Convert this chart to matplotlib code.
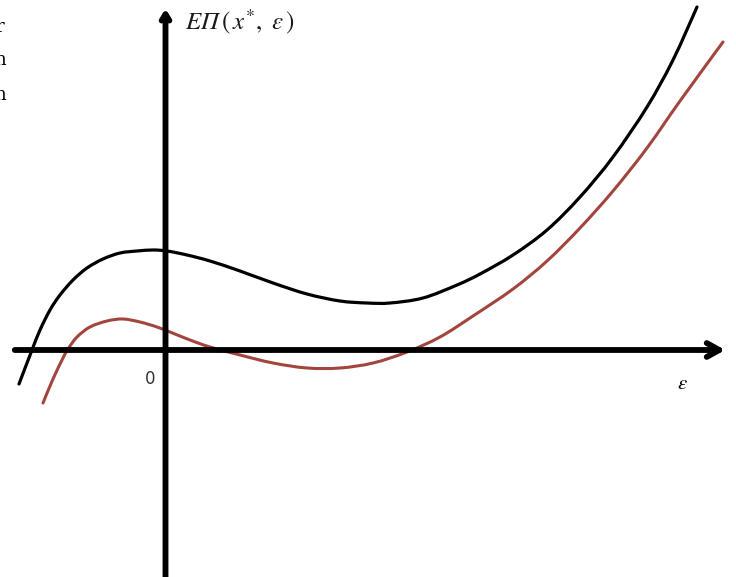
import numpy as np
import matplotlib
matplotlib.use("Agg")
import matplotlib.pyplot as plt
from matplotlib.path import Path
from matplotlib.patches import PathPatch

plt.rcParams['mathtext.fontset'] = 'stix'

# curves (epsilon, expected profit)
eps_black = [-1.46, -1.33, -1.25, -1.15, -1.05, -0.92, -0.78, -0.62, -0.45, -0.28,
             -0.12, 0.02, 0.22, 0.45, 0.75, 1.08, 1.42, 1.75, 2.02, 2.25,
             2.58, 2.92, 3.15, 3.48, 3.82, 4.15, 4.48, 4.82, 5.08, 5.32]
prof_black = [-0.33, 0.01, 0.21, 0.41, 0.56, 0.71, 0.83, 0.92, 0.98, 1.00,
              1.01, 1.00, 0.96, 0.90, 0.80, 0.68, 0.57, 0.50, 0.48, 0.48,
              0.53, 0.66, 0.77, 0.96, 1.21, 1.54, 1.94, 2.44, 2.91, 3.44]

eps_red = [-1.22, -1.12, -1.02, -0.97, -0.88, -0.75, -0.58, -0.42, -0.25, -0.08,
           0.05, 0.25, 0.45, 0.75, 1.08, 1.42, 1.75, 2.08, 2.42, 2.75,
           3.08, 3.48, 3.82, 4.15, 4.48, 4.82, 5.15, 5.58]
prof_red = [-0.52, -0.28, -0.07, 0.02, 0.14, 0.24, 0.30, 0.32, 0.29, 0.24,
            0.19, 0.11, 0.04, -0.04, -0.12, -0.17, -0.17, -0.12, -0.01, 0.14,
            0.35, 0.62, 0.90, 1.23, 1.60, 2.03, 2.50, 3.09]


def smooth_path(xs, ys):
    # bezier path through the points (catmull-rom style handles)
    p = np.column_stack([xs, ys])
    ext = np.vstack([p[0], p, p[-1]])
    verts = [p[0]]
    codes = [Path.MOVETO]
    for i in range(1, len(ext) - 2):
        p0, p1, p2, p3 = ext[i - 1], ext[i], ext[i + 1], ext[i + 2]
        verts += [p1 + (p2 - p0) / 6, p2 - (p3 - p1) / 6, p2]
        codes += [Path.CURVE4] * 3
    return Path(verts, codes)


fig = plt.figure(figsize=(7.36, 5.77), dpi=100)
ax = fig.add_axes([0, 0, 1, 1])
ax.set_xlim(-1.65, 5.71)
ax.set_ylim(-2.26, 3.51)
ax.axis('off')

# axes with arrows
ax.annotate('', xy=(5.63, 0.01), xytext=(-1.53, 0.01),
            arrowprops=dict(arrowstyle='->,head_length=0.9,head_width=0.5', lw=4.2, color='black'))
ax.annotate('', xy=(0.005, 3.45), xytext=(0.005, -2.3),
            arrowprops=dict(arrowstyle='->,head_length=0.45,head_width=0.28', lw=4.2, color='black'))

ax.add_patch(PathPatch(smooth_path(eps_black, prof_black), fill=False,
                       edgecolor='black', lw=2.3, capstyle='round'))
ax.add_patch(PathPatch(smooth_path(eps_red, prof_red), fill=False,
                       edgecolor='#a3453f', lw=2.2, capstyle='round'))

ax.text(0.2, 3.29, r'EΠ$\,(\,x^{*},\ \varepsilon\,)$', fontsize=18, color='#1a1a1a',
        family='STIXGeneral', style='italic', va='center', ha='left')
ax.text(-0.15, -0.28, '0', fontsize=12, color='#333333', ha='center', va='center')
ax.text(5.17, -0.32, r'$\varepsilon$', fontsize=15, ha='center', va='center')

# cut-off text at the left edge
for yy, s in [(3.24, 'r'), (2.91, 'n'), (2.56, 'n')]:
    ax.text(-1.65, yy, s, fontsize=13, family='DejaVu Serif', ha='center', va='center')

fig.savefig('out.png', dpi=100)
